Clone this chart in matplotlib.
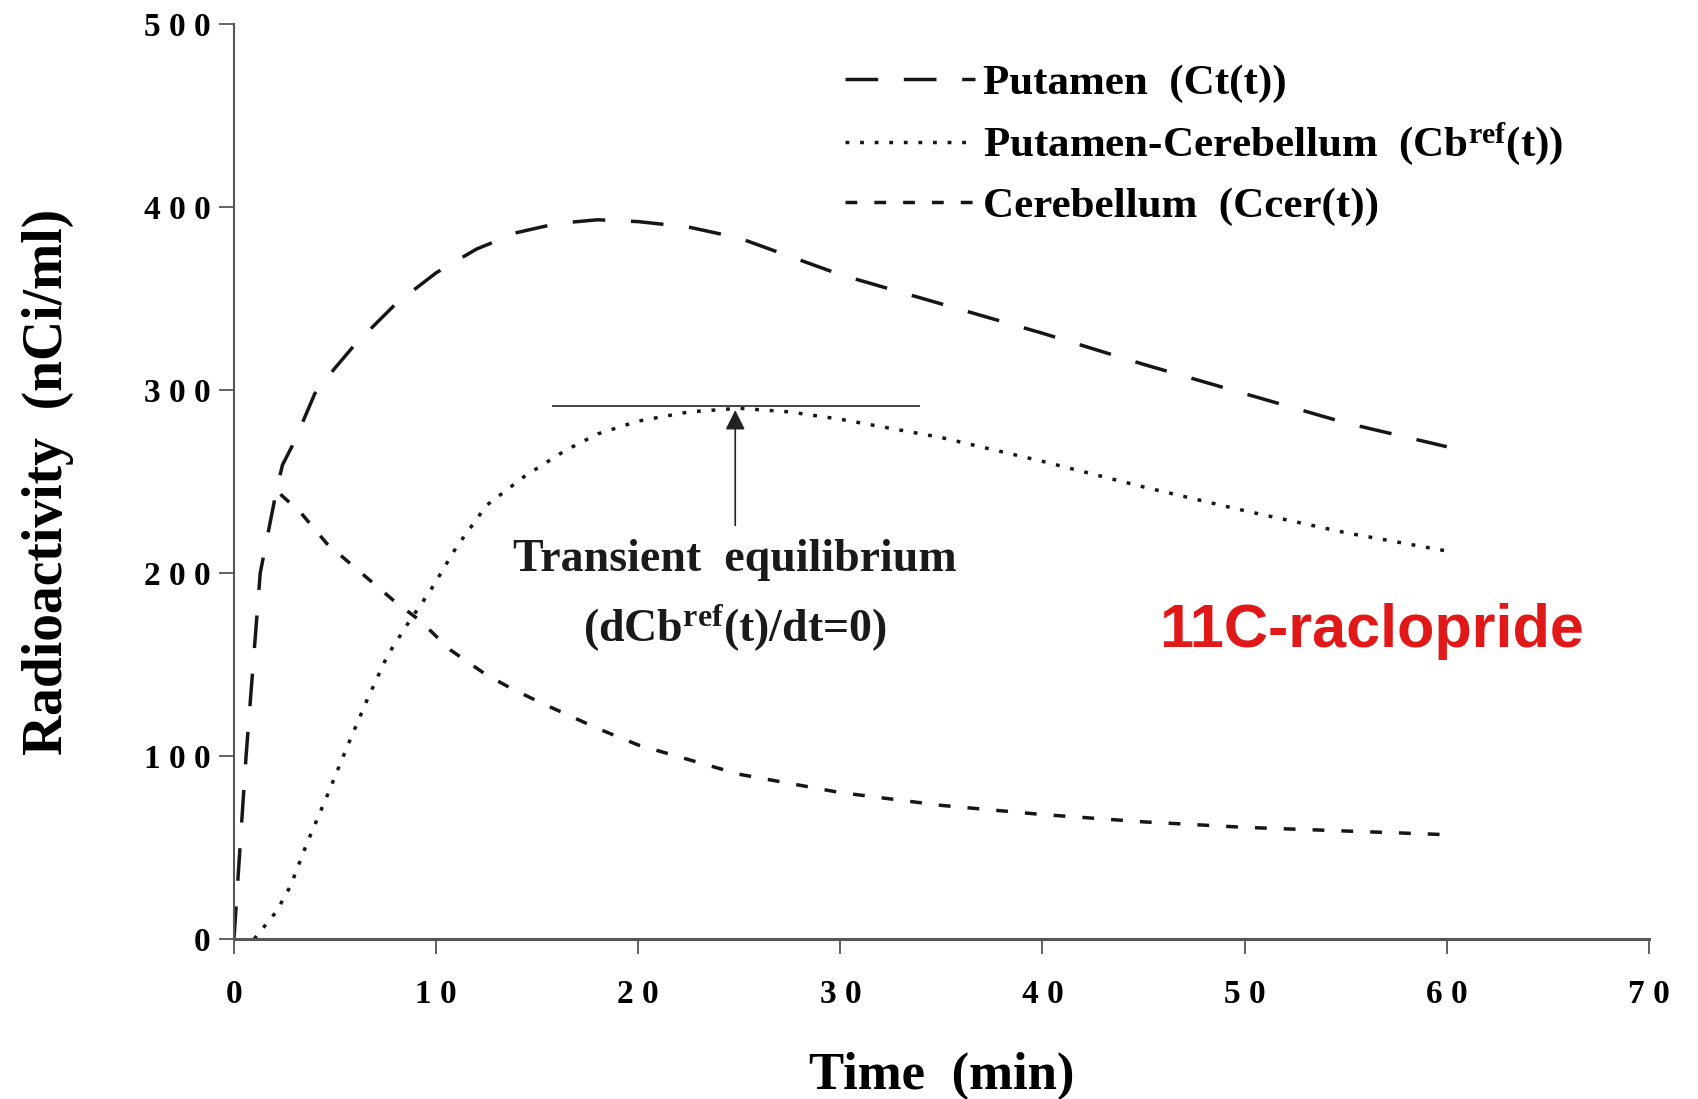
import matplotlib
matplotlib.use("Agg")
import matplotlib.pyplot as plt

# values (time in min, radioactivity in nCi/ml)
putamen_t = [0, 0.6, 1.3, 2.1, 2.4, 3, 4, 5, 6, 8, 10, 12, 14, 16, 18, 20, 22.5, 25,
             30, 35, 40, 45, 50, 55, 60]
putamen_ct = [0, 100, 200, 245, 259, 272, 298, 312, 325, 347, 364, 377, 386, 391, 393, 392, 389, 383,
              363, 347, 331, 314, 298, 282, 269]

cereb_t = [2.3, 2.5, 3.3, 4.6, 6.3, 8, 9.2, 10.7, 12.4, 13.7, 15.2, 18, 20, 25,
           30, 35, 40, 45, 50, 55, 60]
cereb_ccer = [243, 241, 233, 216, 200, 184, 174, 158, 145, 137, 129, 115, 106, 90,
              80, 73, 68, 64, 61, 59, 57]

diff_t = [1, 2.1, 2.8, 3.6, 4.6, 5.6, 6.6, 7.6, 8.7, 9.7, 11, 12.5, 14.4, 16.4, 18, 20, 22.5, 25,
          27.5, 30, 35, 40, 45, 50, 55, 60]
diff_cbref = [0, 15, 29, 52, 78, 105, 131, 155, 174, 190, 214, 237, 253, 267, 276, 283, 288, 290,
              288, 284, 274, 261, 247, 234, 222, 212]

x_ticks = [0, 10, 20, 30, 40, 50, 60, 70]
x_tick_labels = ["0", "1 0", "2 0", "3 0", "4 0", "5 0", "6 0", "7 0"]
y_ticks = [0, 100, 200, 300, 400, 500]
y_tick_labels = ["0", "1 0 0", "2 0 0", "3 0 0", "4 0 0", "5 0 0"]

equilibrium_t = 24.8
equilibrium_level = 291
equilibrium_span = (15.8, 33.9)

plt.rcParams['font.family'] = ['Liberation Serif', 'DejaVu Serif']
plt.rcParams['font.weight'] = 'bold'
plt.rcParams['axes.labelweight'] = 'bold'
plt.rcParams['mathtext.fontset'] = 'custom'
plt.rcParams['mathtext.rm'] = 'Liberation Serif:bold'
plt.rcParams['mathtext.it'] = 'Liberation Serif:bold'

fig = plt.figure(figsize=(16.99, 10.99), dpi=100)
ax = fig.add_axes([0.1377, 0.1456, 0.8328, 0.8326])

ink = '#161616'
ax.plot(putamen_t, putamen_ct, color=ink, lw=2.5, dashes=(9.4, 7.4),
        label='Putamen  (Ct(t))')
ax.plot(diff_t, diff_cbref, color=ink, lw=2.5, dashes=(1.1, 3.1),
        label=r'Putamen-Cerebellum  (Cb$^{\mathrm{ref}}$(t))')
ax.plot(cereb_t, cereb_ccer, color=ink, lw=2.5, dashes=(3.4, 4.9),
        label='Cerebellum  (Ccer(t))')

# transient equilibrium marker
ax.plot(equilibrium_span, [equilibrium_level, equilibrium_level], color='#444444', lw=1.4)
ax.annotate('', xy=(equilibrium_t, equilibrium_level - 2), xytext=(equilibrium_t, 226),
            arrowprops=dict(arrowstyle='-|>', color='#222222', lw=1.2,
                            mutation_scale=30, shrinkA=0, shrinkB=0))
ax.text(equilibrium_t, 207, 'Transient  equilibrium', ha='center', va='center',
        fontsize=33, color='#1a1a1a')
ax.text(equilibrium_t, 170, r'(dCb$^{\mathrm{ref}}$(t)/dt=0)', ha='center', va='center',
        fontsize=33, color='#1a1a1a')

ax.text(56.3, 168, '11C-raclopride', ha='center', va='center', fontsize=44,
        color='#e01818', family='Liberation Sans', weight='bold')

ax.set_xlim(0, 70)
ax.set_ylim(0, 500)
ax.set_xticks(x_ticks)
ax.set_xticklabels(x_tick_labels)
ax.set_yticks(y_ticks)
ax.set_yticklabels(y_tick_labels)
ax.tick_params(axis='both', labelsize=24, color='#555555', length=11, width=1.3)
ax.tick_params(axis='x', pad=18)
ax.tick_params(axis='y', pad=6)
for side in ('top', 'right'):
    ax.spines[side].set_visible(False)
ax.spines['left'].set_color('#555555')
ax.spines['left'].set_linewidth(1.5)
ax.spines['bottom'].set_color('#555555')
ax.spines['bottom'].set_linewidth(2.2)

ax.set_xlabel('Time  (min)', fontsize=38, labelpad=30)
ax.set_ylabel('Radioactivity  (nCi/ml)', fontsize=40, labelpad=50)

ax.legend(loc='upper left', bbox_to_anchor=(0.42, 0.975), frameon=False,
          fontsize=31, handlelength=3.0, handletextpad=0.2, labelspacing=0.42,
          borderaxespad=0)

fig.savefig('out.png', dpi=100)
